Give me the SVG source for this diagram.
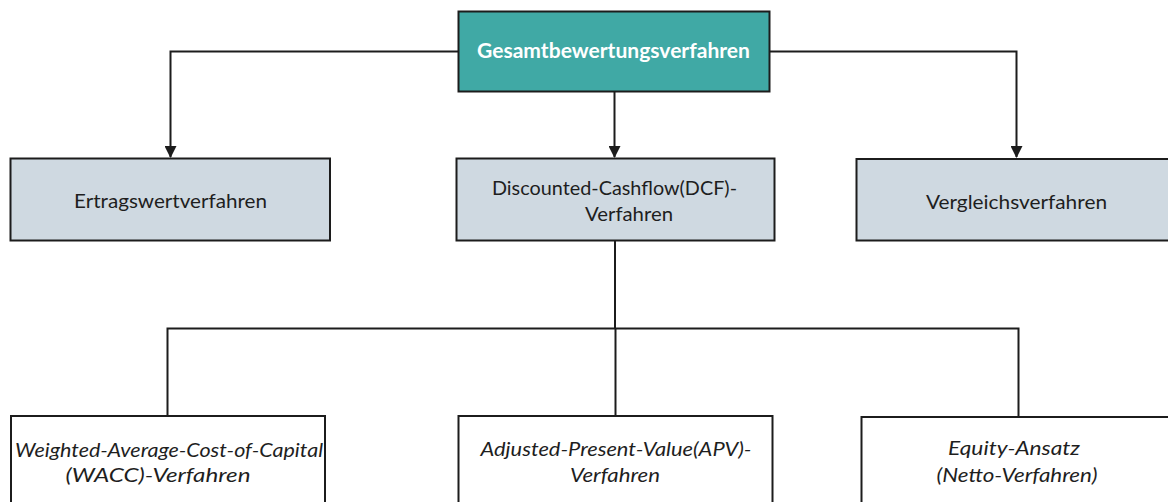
<svg xmlns="http://www.w3.org/2000/svg" width="1168" height="502" viewBox="0 0 1168 502">
  <style>
    .box { stroke: #1c1c1c; stroke-width: 2; }
    .root { fill: #40a9a5; }
    .mid { fill: #cfd9e1; }
    .leaf { fill: #ffffff; }
    .lbl { font-family: Lato, "Open Sans", "Liberation Sans", sans-serif; font-size: 20px; fill: #1e1e1e; }
    .rootlbl { font-family: Lato, "Open Sans", "Liberation Sans", sans-serif; font-size: 20px; font-weight: bold; fill: #ffffff; }
    .it { font-style: italic; }
    .wire { fill: none; stroke: #1c1c1c; stroke-width: 2; }
  </style>
  <defs>
    <marker id="arrow" markerWidth="6" markerHeight="6" refX="5.5" refY="3" orient="auto" markerUnits="strokeWidth">
      <path d="M0,0 L6,3 L0,6 Z" fill="#1c1c1c"/>
    </marker>
  </defs>
  <rect width="1168" height="502" fill="#ffffff"/>

  <!-- connectors -->
  <g id="connectors">
    <path class="wire" d="M458,51.5 H170.5 V157" marker-end="url(#arrow)"/>
    <path class="wire" d="M614.5,91.5 V157" marker-end="url(#arrow)"/>
    <path class="wire" d="M770,51.5 H1016.5 V157" marker-end="url(#arrow)"/>
    <path class="wire" d="M615,241 V328.5"/>
    <path class="wire" d="M167.5,416 V328.5 H1018.5 V417"/>
    <path class="wire" d="M615.5,328.5 V416"/>
  </g>

  <!-- root -->
  <g id="node-gesamt">
    <rect class="box root" x="458.5" y="11.5" width="311" height="80"/>
    <text class="rootlbl" x="613.5" y="58" text-anchor="middle" textLength="273" lengthAdjust="spacingAndGlyphs">Gesamtbewertungsverfahren</text>
  </g>

  <!-- second level -->
  <g id="node-ertragswert">
    <rect class="box mid" x="10.5" y="158.5" width="319.5" height="82"/>
    <text class="lbl" x="170.5" y="207.5" text-anchor="middle" textLength="193" lengthAdjust="spacingAndGlyphs">Ertragswertverfahren</text>
  </g>
  <g id="node-dcf">
    <rect class="box mid" x="456.5" y="158.5" width="318" height="82"/>
    <text class="lbl" x="614.5" y="195" text-anchor="middle" textLength="245" lengthAdjust="spacingAndGlyphs">Discounted-Cashflow(DCF)-</text>
    <text class="lbl" x="629" y="220.5" text-anchor="middle" textLength="88" lengthAdjust="spacingAndGlyphs">Verfahren</text>
  </g>
  <g id="node-vergleich">
    <rect class="box mid" x="856.5" y="159" width="330" height="81.5"/>
    <text class="lbl" x="1016.5" y="208.5" text-anchor="middle" textLength="181" lengthAdjust="spacingAndGlyphs">Vergleichsverfahren</text>
  </g>

  <!-- third level -->
  <g id="node-wacc">
    <rect class="box leaf" x="11" y="416" width="314" height="100"/>
    <text class="lbl it" x="169" y="456.5" text-anchor="middle" textLength="308" lengthAdjust="spacingAndGlyphs">Weighted-Average-Cost-of-Capital</text>
    <text class="lbl it" x="158" y="481.5" text-anchor="middle" textLength="185" lengthAdjust="spacingAndGlyphs">(WACC)-Verfahren</text>
  </g>
  <g id="node-apv">
    <rect class="box leaf" x="458.5" y="416" width="314" height="100"/>
    <text class="lbl it" x="616" y="455.5" text-anchor="middle" textLength="271" lengthAdjust="spacingAndGlyphs">Adjusted-Present-Value(APV)-</text>
    <text class="lbl it" x="615" y="481.5" text-anchor="middle" textLength="90" lengthAdjust="spacingAndGlyphs">Verfahren</text>
  </g>
  <g id="node-equity">
    <rect class="box leaf" x="861.5" y="417" width="330" height="100"/>
    <text class="lbl it" x="1014" y="455" text-anchor="middle" textLength="132" lengthAdjust="spacingAndGlyphs">Equity-Ansatz</text>
    <text class="lbl it" x="1017" y="481.5" text-anchor="middle" textLength="161" lengthAdjust="spacingAndGlyphs">(Netto-Verfahren)</text>
  </g>
</svg>
